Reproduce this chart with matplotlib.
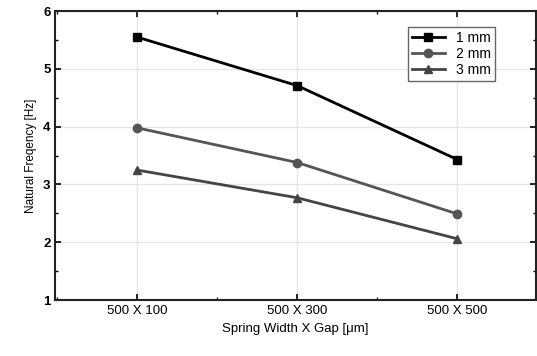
import matplotlib

matplotlib.use("Agg")
import matplotlib.pyplot as plt
from matplotlib.ticker import MultipleLocator

# Data
categories = ["500 X 100", "500 X 300", "500 X 500"]
freq_1mm = [5.55, 4.71, 3.43]
freq_2mm = [3.98, 3.38, 2.49]
freq_3mm = [3.25, 2.77, 2.06]

series = [
    ("1 mm", freq_1mm, "s", "#000000"),
    ("2 mm", freq_2mm, "o", "#555555"),
    ("3 mm", freq_3mm, "^", "#444444"),
]

plt.rcParams["font.family"] = ["Liberation Sans", "DejaVu Sans"]

fig = plt.figure(figsize=(5.37, 3.56), dpi=100)
ax = fig.add_axes([0.103, 0.157, 0.895, 0.812])

x = list(range(len(categories)))
for label, values, marker, color in series:
    ax.plot(x, values, marker=marker, color=color, label=label,
            linewidth=2, markersize=6)

ax.set_xlim(-0.51, 2.49)
ax.set_ylim(1, 6)
ax.set_xticks(x)
ax.set_xticklabels(categories)
ax.xaxis.set_minor_locator(MultipleLocator(0.5))
ax.yaxis.set_major_locator(MultipleLocator(1))
ax.yaxis.set_minor_locator(MultipleLocator(0.5))
ax.grid(True, which="major", color="#e6e6e6", linewidth=1)
ax.set_axisbelow(True)

ax.tick_params(which="both", direction="in", top=True, right=True,
               labeltop=False, labelright=False)
ax.tick_params(which="major", length=4, width=1.2, labelsize=9.5)
ax.tick_params(which="minor", length=2, width=1)
for lbl in ax.get_yticklabels():
    lbl.set_fontweight("bold")
for spine in ax.spines.values():
    spine.set_linewidth(1.5)
    spine.set_color("#222222")

ax.set_ylabel("Natural Freqency [Hz]", fontsize=8.5)
ax.set_xlabel("Spring Width X Gap [\u03bcm]", fontsize=9.5)

ax.legend(loc="upper right", bbox_to_anchor=(0.93, 0.97), fontsize=10,
          fancybox=False, edgecolor="#666666", framealpha=1,
          handlelength=2.4, borderpad=0.3, labelspacing=0.15)

fig.savefig("out.png", dpi=100)
